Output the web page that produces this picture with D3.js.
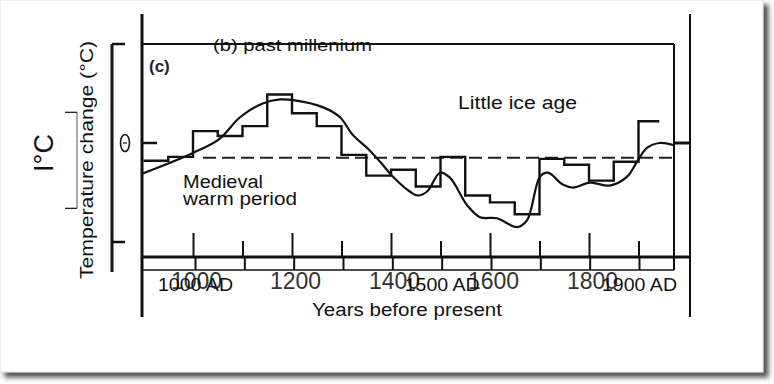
<!DOCTYPE html>
<html>
<head>
<meta charset="utf-8">
<title>Past millenium</title>
<script src="https://cdnjs.cloudflare.com/ajax/libs/d3/7.8.5/d3.min.js"></script>
<style>
  body { margin: 0; background: #fff; }
  text { font-family: "Liberation Sans", Arial, sans-serif; fill: #111; }
</style>
</head>
<body>
<svg width="774" height="384" class="svg-chart"></svg>
<script>
  // 50-year block record (start year of block, anomaly in °C)
  var stepYears  = [900, 950, 1000, 1050, 1100, 1150, 1200, 1250, 1300, 1350, 1400,
                    1450, 1500, 1550, 1600, 1650, 1700, 1750, 1800, 1850, 1900]
  var stepValues = [-0.18, -0.14, 0.12, 0.07, 0.17, 0.49, 0.30, 0.17, -0.12, -0.33, -0.27,
                    -0.44, -0.14, -0.53, -0.60, -0.72, -0.16, -0.22, -0.38, -0.19, 0.22]
  var stepEnd = 1942

  // smoothed curve
  var curveYears  = [897, 1000, 1053, 1095, 1141, 1176, 1206, 1263, 1297, 1323, 1352, 1378,
                     1404, 1438, 1453, 1473, 1499, 1519, 1554, 1580, 1614, 1655, 1675, 1701, 1717,
                     1747, 1768, 1802, 1842, 1877, 1897, 1917, 1943, 1970]
  var curveValues = [-0.31, -0.10, 0.04, 0.26, 0.40, 0.44, 0.43, 0.36, 0.26, 0.08, -0.05, -0.19,
                     -0.34, -0.49, -0.53, -0.49, -0.30, -0.35, -0.63, -0.75, -0.76, -0.85, -0.78, -0.34, -0.30,
                     -0.42, -0.45, -0.40, -0.43, -0.34, -0.19, -0.05, 0.00, -0.02]

  var referenceLevel = -0.15
  var majorTicks = [1000, 1200, 1400, 1600, 1800]
  var minorTicks = [1100, 1300, 1500, 1700, 1900]
  var adTicks = [1000, 1100, 1200, 1300, 1400, 1500, 1600, 1700, 1800, 1900]
  var adLabels = [1000, 1500, 1900]
  var tempTicks = [1, -1]
  var scaleBar = [0.31, -0.66]

  var svg = d3.select('.svg-chart')

  // paper with shadow
  var defs = svg.append('defs')
  var f = defs.append('filter').attr('id', 'shadow').attr('x', '-5%').attr('y', '-5%').attr('width', '115%').attr('height', '115%')
  f.append('feDropShadow').attr('dx', 5).attr('dy', 5).attr('stdDeviation', 2.5).attr('flood-color', '#333').attr('flood-opacity', 0.85)
  svg.append('rect').attr('x', 0).attr('y', 0).attr('width', 763).attr('height', 372)
    .attr('fill', '#fff').attr('stroke', '#ddd').attr('stroke-width', 1).attr('filter', 'url(#shadow)')

  var x = d3.scaleLinear().domain([1000, 1900]).range([193, 638.5])
  var xAD = d3.scaleLinear().domain([1000, 1900]).range([195, 639])
  var y = d3.scaleLinear().domain([-1, 1]).range([242, 44])

  var plotLeft = 142, plotRight = 674, outerRight = 690, plotTop = 44
  var axisY = 257, axisY2 = 270

  var clip = defs.append('clipPath').attr('id', 'plot')
  clip.append('rect').attr('x', plotLeft).attr('y', plotTop).attr('width', plotRight - plotLeft).attr('height', axisY - plotTop)

  var g = svg.append('g')

  // frame lines
  g.append('line').attr('x1', plotLeft).attr('x2', plotLeft).attr('y1', 14).attr('y2', 317)
    .attr('stroke', '#111').attr('stroke-width', 3)
  g.append('line').attr('x1', outerRight).attr('x2', outerRight).attr('y1', 14).attr('y2', 317)
    .attr('stroke', '#111').attr('stroke-width', 2)
  g.append('line').attr('x1', plotRight).attr('x2', plotRight).attr('y1', plotTop).attr('y2', axisY2)
    .attr('stroke', '#111').attr('stroke-width', 2)

  // title struck by the frame line
  g.append('text').attr('x', 213).attr('y', 51).attr('font-size', 17)
    .attr('textLength', 159).attr('lengthAdjust', 'spacingAndGlyphs')
    .text('(b) past millenium')
  g.append('line').attr('x1', plotLeft).attr('x2', plotRight).attr('y1', plotTop).attr('y2', plotTop)
    .attr('stroke', '#111').attr('stroke-width', 2)
  g.append('text').attr('x', 149).attr('y', 72).attr('font-size', 17).attr('font-weight', 'bold')
    .style('fill', '#222').text('(c)')

  // reference dashed line
  g.append('line').attr('x1', 203).attr('x2', plotRight).attr('y1', y(referenceLevel)).attr('y2', y(referenceLevel))
    .attr('stroke', '#222').attr('stroke-width', 2).attr('stroke-dasharray', '13,6')

  // step series
  var stepData = stepYears.map(function(d, i){ return [d, stepValues[i]] })
  stepData.push([stepEnd, stepValues[stepValues.length - 1]])
  var stepLine = d3.line()
    .x(function(d){ return x(d[0]) })
    .y(function(d){ return y(d[1]) })
    .curve(d3.curveStepAfter)
  g.append('path').datum(stepData).attr('d', stepLine)
    .attr('fill', 'none').attr('stroke', '#111').attr('stroke-width', 2.4)
    .attr('clip-path', 'url(#plot)')

  // smooth series
  var curveData = curveYears.map(function(d, i){ return [d, curveValues[i]] })
  var smoothLine = d3.line()
    .x(function(d){ return x(d[0]) })
    .y(function(d){ return y(d[1]) })
    .curve(d3.curveCatmullRom.alpha(0.5))
  g.append('path').datum(curveData).attr('d', smoothLine)
    .attr('fill', 'none').attr('stroke', '#111').attr('stroke-width', 2.2)
    .attr('clip-path', 'url(#plot)')

  // x axes
  g.append('line').attr('x1', plotLeft).attr('x2', outerRight).attr('y1', axisY).attr('y2', axisY)
    .attr('stroke', '#111').attr('stroke-width', 3)
  g.append('line').attr('x1', plotLeft).attr('x2', plotRight).attr('y1', axisY2).attr('y2', axisY2)
    .attr('stroke', '#111').attr('stroke-width', 1.6)

  var majorAxis = g.append('g').attr('transform', 'translate(0,' + axisY + ')')
    .call(d3.axisTop(x).tickValues(majorTicks).tickSize(24).tickFormat(''))
  var minorAxis = g.append('g').attr('transform', 'translate(0,' + axisY + ')')
    .call(d3.axisTop(x).tickValues(minorTicks).tickSize(16).tickFormat(''))
  var adAxis = g.append('g').attr('transform', 'translate(0,' + axisY2 + ')')
    .call(d3.axisTop(xAD).tickValues(adTicks).tickSize(13).tickFormat(''))
  ;[majorAxis, minorAxis, adAxis].forEach(function(a){
    a.select('.domain').remove()
    a.selectAll('.tick line').attr('stroke', '#111').attr('stroke-width', 2)
  })

  var yearLabels = g.append('g').attr('transform', 'translate(3,' + axisY2 + ')')
    .call(d3.axisBottom(x).tickValues(majorTicks).tickSize(0).tickPadding(3).tickFormat(d3.format('d')))
  yearLabels.select('.domain').remove()
  yearLabels.selectAll('text').attr('font-size', 23).attr('font-family', '"DejaVu Sans", sans-serif')
    .attr('font-weight', 200).style('fill', '#333')

  var adAxisLabels = g.append('g').attr('transform', 'translate(0,' + axisY2 + ')')
    .call(d3.axisBottom(xAD).tickValues(adLabels).tickSize(0).tickPadding(8)
      .tickFormat(function(d){ return d + ' AD' }))
  adAxisLabels.select('.domain').remove()
  adAxisLabels.selectAll('text').attr('font-size', 18).attr('textLength', 75)
    .attr('lengthAdjust', 'spacingAndGlyphs').style('fill', '#111')

  g.append('text').attr('x', 407).attr('y', 316).attr('text-anchor', 'middle').attr('font-size', 18)
    .attr('textLength', 190).attr('lengthAdjust', 'spacingAndGlyphs')
    .text('Years before present')

  // y scale bracket
  g.append('line').attr('x1', 112).attr('x2', 112).attr('y1', y(1)).attr('y2', 272)
    .attr('stroke', '#111').attr('stroke-width', 3)
  g.selectAll('.ybr').data(tempTicks).enter().append('line').attr('class', 'ybr')
    .attr('x1', 112).attr('x2', 125).attr('y1', function(d){ return y(d) }).attr('y2', function(d){ return y(d) })
    .attr('stroke', '#111').attr('stroke-width', 2.5)
  g.append('line').attr('x1', plotLeft).attr('x2', 157).attr('y1', y(0)).attr('y2', y(0))
    .attr('stroke', '#111').attr('stroke-width', 2.5)
  g.append('line').attr('x1', plotRight).attr('x2', outerRight).attr('y1', y(0)).attr('y2', y(0))
    .attr('stroke', '#111').attr('stroke-width', 3)
  g.append('ellipse').attr('cx', 125).attr('cy', y(0)).attr('rx', 4.5).attr('ry', 8.5)
    .attr('fill', 'none').attr('stroke', '#111').attr('stroke-width', 1.6)
  g.append('line').attr('x1', 123).attr('x2', 127).attr('y1', y(0)).attr('y2', y(0))
    .attr('stroke', '#111').attr('stroke-width', 1.2)

  // thin scale bar of the other overlay
  g.append('line').attr('x1', 77).attr('x2', 77).attr('y1', y(scaleBar[0])).attr('y2', y(scaleBar[1]))
    .attr('stroke', '#555').attr('stroke-width', 1)
  g.selectAll('.sb').data(scaleBar).enter().append('line').attr('class', 'sb')
    .attr('x1', 65).attr('x2', 77).attr('y1', function(d){ return y(d) }).attr('y2', function(d){ return y(d) })
    .attr('stroke', '#222').attr('stroke-width', 1.3)

  g.append('text').attr('transform', 'translate(93,160) rotate(-90)').attr('text-anchor', 'middle')
    .attr('font-size', 18).attr('textLength', 238).attr('lengthAdjust', 'spacingAndGlyphs')
    .text('Temperature change (°C)')
  g.append('text').attr('transform', 'translate(53,153) rotate(-90)').attr('text-anchor', 'middle')
    .attr('font-size', 27).attr('font-family', '"DejaVu Sans", sans-serif').attr('font-weight', 200)
    .text('I°C')

  // annotations
  g.append('text').attr('x', 458).attr('y', 109).attr('font-size', 18)
    .attr('textLength', 119).attr('lengthAdjust', 'spacingAndGlyphs').text('Little ice age')
  g.append('text').attr('x', 183).attr('y', 188).attr('font-size', 18)
    .attr('textLength', 80).attr('lengthAdjust', 'spacingAndGlyphs').text('Medieval')
  g.append('text').attr('x', 183).attr('y', 205).attr('font-size', 18)
    .attr('textLength', 114).attr('lengthAdjust', 'spacingAndGlyphs').text('warm period')
</script>
</body>
</html>
